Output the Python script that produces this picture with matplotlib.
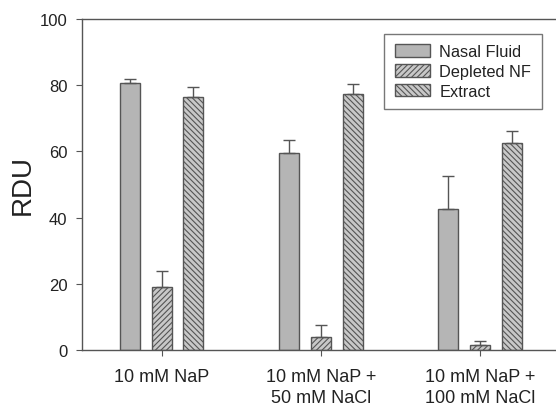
import numpy as np
import matplotlib
matplotlib.use("Agg")
import matplotlib.pyplot as plt

plt.rcParams['font.family'] = ['Liberation Sans', 'DejaVu Sans']
plt.rcParams['hatch.linewidth'] = 0.8

categories = ["10 mM NaP", "10 mM NaP +\n50 mM NaCl", "10 mM NaP +\n100 mM NaCl"]
series_names = ["Nasal Fluid", "Depleted NF", "Extract"]
nasal_fluid = [80.5, 59.5, 42.5]
nasal_fluid_err = [1.2, 4.0, 10.0]
depleted_nf = [19.0, 4.0, 1.5]
depleted_nf_err = [5.0, 3.5, 1.3]
extract = [76.3, 77.3, 62.5]
extract_err = [3.0, 3.0, 3.5]

fig = plt.figure(figsize=(5.56, 4.06), dpi=100)
ax = fig.add_axes([0.1475, 0.1355, 0.859, 0.8155])

x = np.arange(len(categories))
width = 0.126
offset = 0.2
edge = "#555555"

styles = [
    dict(color="#b5b5b5", hatch=None),
    dict(color="#c8c8c8", hatch="//////"),
    dict(color="#c8c8c8", hatch="\\\\\\\\\\\\"),
]
values = [nasal_fluid, depleted_nf, extract]
errors = [nasal_fluid_err, depleted_nf_err, extract_err]

for i, (name, vals, errs, st) in enumerate(zip(series_names, values, errors, styles)):
    pos = x + (i - 1) * offset
    ax.bar(pos, vals, width, color=st["color"], hatch=st["hatch"],
           edgecolor=edge, linewidth=1.0, label=name, zorder=2)
    ax.errorbar(pos, vals, yerr=[np.zeros(len(errs)), errs], fmt="none",
                ecolor=edge, elinewidth=1.0, capsize=4, capthick=1.0, zorder=3)

ax.set_xlim(-0.5, 2.5)
ax.set_ylim(0, 100)
ax.set_yticks([0, 20, 40, 60, 80, 100])
ax.set_xticks(x)
ax.set_xticklabels(categories, fontsize=13, color="#222222", linespacing=1.3)
ax.tick_params(axis="y", labelsize=12, colors="#222222", direction="out", length=4,
               color=edge, pad=6.5)
ax.tick_params(axis="x", direction="out", length=4, color=edge, pad=9)
ax.set_ylabel("RDU", fontsize=20, color="#222222", labelpad=3)

for s in ["left", "top", "bottom"]:
    ax.spines[s].set_color(edge)
    ax.spines[s].set_linewidth(1.0)
ax.spines["right"].set_visible(False)

leg = ax.legend(loc="upper right", bbox_to_anchor=(0.98, 0.98), fontsize=11.8,
                frameon=True, fancybox=False, edgecolor=edge,
                handlelength=2.1, handleheight=0.8, borderpad=0.65, labelspacing=0.28,
                handletextpad=0.6)
leg.get_frame().set_linewidth(1.0)
for t in leg.get_texts():
    t.set_color("#222222")

fig.savefig("out.png", dpi=100)
